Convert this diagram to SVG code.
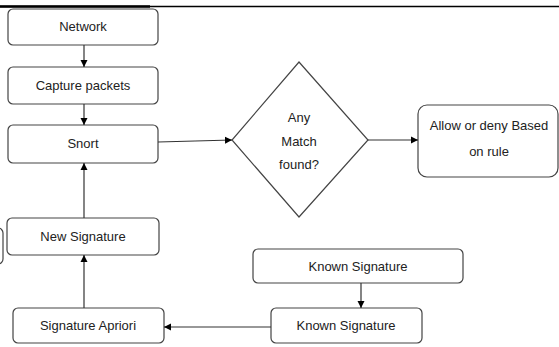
<svg xmlns="http://www.w3.org/2000/svg" width="559" height="347" viewBox="0 0 559 347">
<defs>
<marker id="ah" markerWidth="8" markerHeight="8" refX="7" refY="4" orient="auto" markerUnits="userSpaceOnUse">
<path d="M0,0.5 L7,4 L0,7.5 Z" fill="#000"/>
</marker>
<style>
.box{fill:#fff;stroke:#444;stroke-width:1.2}
.t{font-family:"Liberation Sans",Arial,sans-serif;font-size:13px;fill:#222;text-anchor:middle}
.c{stroke:#333;stroke-width:1.2;fill:none}
</style>
</defs>
<rect width="559" height="347" fill="#fff"/>
<line x1="0" y1="6.5" x2="559" y2="6.5" stroke="#000" stroke-width="1.5"/>
<line x1="0" y1="6.5" x2="150" y2="6.5" stroke="#000" stroke-width="2.5"/>
<g id="offscreen"><rect class="box" x="-60" y="228" width="63" height="36" rx="5"/></g>
<g id="network"><rect class="box" x="8" y="9" width="150" height="36" rx="5"/><text class="t" x="83" y="31">Network</text></g>
<g id="capture"><rect class="box" x="8" y="67" width="150" height="37" rx="5"/><text class="t" x="83" y="90">Capture packets</text></g>
<g id="snort"><rect class="box" x="8" y="125" width="150" height="38" rx="5"/><text class="t" x="83" y="148">Snort</text></g>
<g id="decision"><polygon class="box" points="299,62 368,140 299,217 232,140"/><text class="t" x="299" y="122">Any</text><text class="t" x="299" y="146">Match</text><text class="t" x="299" y="169">found?</text></g>
<g id="allow"><rect class="box" x="418" y="105" width="140" height="72" rx="9"/><text class="t" x="489" y="130">Allow or deny Based</text><text class="t" x="489" y="156">on rule</text></g>
<g id="newsig"><rect class="box" x="7" y="218" width="152" height="37" rx="5"/><text class="t" x="83" y="241">New Signature</text></g>
<g id="apriori"><rect class="box" x="13" y="308" width="151" height="35" rx="5"/><text class="t" x="88" y="330">Signature Apriori</text></g>
<g id="known1"><rect class="box" x="253" y="249" width="210" height="34" rx="5"/><text class="t" x="358" y="271">Known Signature</text></g>
<g id="known2"><rect class="box" x="271" y="308" width="151" height="35" rx="5"/><text class="t" x="346" y="330">Known Signature</text></g>
<g id="connectors">
<line class="c" x1="84" y1="45" x2="84" y2="67" marker-end="url(#ah)"/>
<line class="c" x1="84" y1="104" x2="84" y2="125" marker-end="url(#ah)"/>
<line class="c" x1="158" y1="142" x2="232" y2="140" marker-end="url(#ah)"/>
<line class="c" x1="368" y1="140" x2="418" y2="140" marker-end="url(#ah)"/>
<line class="c" x1="84" y1="218" x2="84" y2="163" marker-end="url(#ah)"/>
<line class="c" x1="84" y1="308" x2="84" y2="255" marker-end="url(#ah)"/>
<line class="c" x1="361" y1="283" x2="361" y2="308" marker-end="url(#ah)"/>
<line class="c" x1="271" y1="327" x2="164" y2="327" marker-end="url(#ah)"/>
</g>
</svg>
